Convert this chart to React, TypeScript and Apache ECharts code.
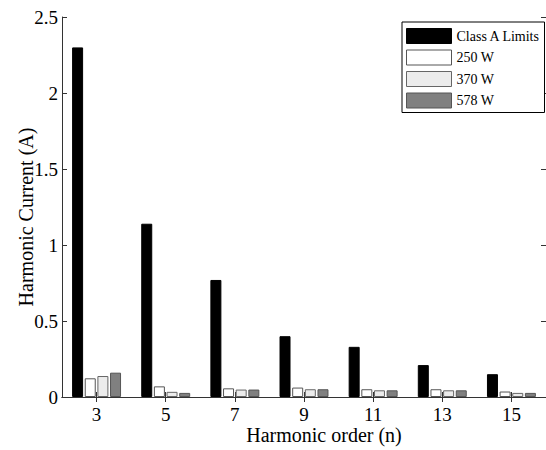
import React, { useEffect, useRef } from "react";
import * as echarts from "echarts";

const categories = ["3", "5", "7", "9", "11", "13", "15"];
const classALimits = [2.3, 1.14, 0.77, 0.4, 0.33, 0.21, 0.15];
const w250 = [0.123, 0.07, 0.057, 0.062, 0.051, 0.051, 0.036];
const w370 = [0.138, 0.034, 0.049, 0.051, 0.044, 0.044, 0.027];
const w578 = [0.16, 0.027, 0.049, 0.051, 0.044, 0.044, 0.027];
const seriesNames = ["Class A Limits", "250 W", "370 W", "578 W"];
const yTicks = [0, 0.5, 1, 1.5, 2, 2.5];

const FONT = "'Liberation Serif', 'Times New Roman', serif";

export default function App() {
  const ref = useRef<HTMLDivElement>(null);
  useEffect(() => {
    if (!ref.current) return;
    const chart = echarts.init(ref.current, undefined, { renderer: "svg" });
    const styles = [
      { color: "#000000", borderColor: "#000000", borderWidth: 1 },
      { color: "#ffffff", borderColor: "#555555", borderWidth: 1 },
      { color: "#ececec", borderColor: "#666666", borderWidth: 1 },
      { color: "#808080", borderColor: "#555555", borderWidth: 1 },
    ];
    const datas = [classALimits, w250, w370, w578];
    const axisLine = { show: true, lineStyle: { color: "#333333", width: 1 } };
    const tick = { show: true, inside: true, length: 5, lineStyle: { color: "#333333" } };
    chart.setOption({
      animation: false,
      backgroundColor: "#ffffff",
      textStyle: { fontFamily: FONT },
      grid: { left: 62, top: 17, width: 485, height: 383 },
      legend: {
        orient: "vertical",
        left: 402,
        top: 22,
        padding: [6, 4, 4, 4],
        itemWidth: 45,
        itemHeight: 15,
        itemGap: 5.5,
        borderColor: "#000000",
        borderWidth: 1,
        backgroundColor: "#ffffff",
        icon: "rect",
        textStyle: { fontFamily: FONT, fontSize: 14, color: "#000000" },
        data: seriesNames.map((n, i) => ({ name: n, itemStyle: styles[i] })),
      },
      xAxis: [
        {
          type: "category",
          data: categories,
          position: "bottom",
          name: "Harmonic order (n)",
          nameLocation: "middle",
          nameGap: 28,
          nameMoveOverlap: false,
          nameTextStyle: {
            fontFamily: FONT,
            fontSize: 20,
            color: "#000000",
            padding: [0, 0, 0, 40],
          },
          axisLine,
          axisTick: { ...tick, alignWithLabel: true },
          axisLabel: { fontFamily: FONT, fontSize: 19, color: "#000000", margin: 8 },
          splitLine: { show: false },
        },
        {
          type: "category",
          data: categories,
          position: "top",
          axisLine,
          axisTick: { ...tick, alignWithLabel: true },
          axisLabel: { show: false },
          splitLine: { show: false },
        },
      ],
      yAxis: [
        {
          type: "value",
          min: 0,
          max: 2.5,
          interval: 0.5,
          position: "left",
          name: "Harmonic Current (A)",
          nameLocation: "middle",
          nameGap: 26,
          nameMoveOverlap: false,
          nameTextStyle: {
            fontFamily: FONT,
            fontSize: 20,
            color: "#000000",
            padding: [0, 20, 0, 0],
          },
          axisLine,
          axisTick: tick,
          axisLabel: {
            fontFamily: FONT,
            fontSize: 19,
            color: "#000000",
            margin: 4,
            formatter: (v: number) => (yTicks.includes(v) ? String(v) : ""),
          },
          splitLine: { show: false },
        },
        {
          type: "value",
          min: 0,
          max: 2.5,
          interval: 0.5,
          position: "right",
          axisLine,
          axisTick: tick,
          axisLabel: { show: false },
          splitLine: { show: false },
        },
      ],
      series: seriesNames.map((n, i) => ({
        name: n,
        type: "bar",
        xAxisIndex: 0,
        yAxisIndex: 0,
        data: datas[i],
        barWidth: 11,
        barGap: "15%",
        itemStyle: styles[i],
        emphasis: { disabled: true },
      })),
    });
    return () => chart.dispose();
  }, []);
  return (
    <div
      ref={ref}
      style={{ position: "absolute", left: 0, top: 0, width: 546, height: 450 }}
    />
  );
}
